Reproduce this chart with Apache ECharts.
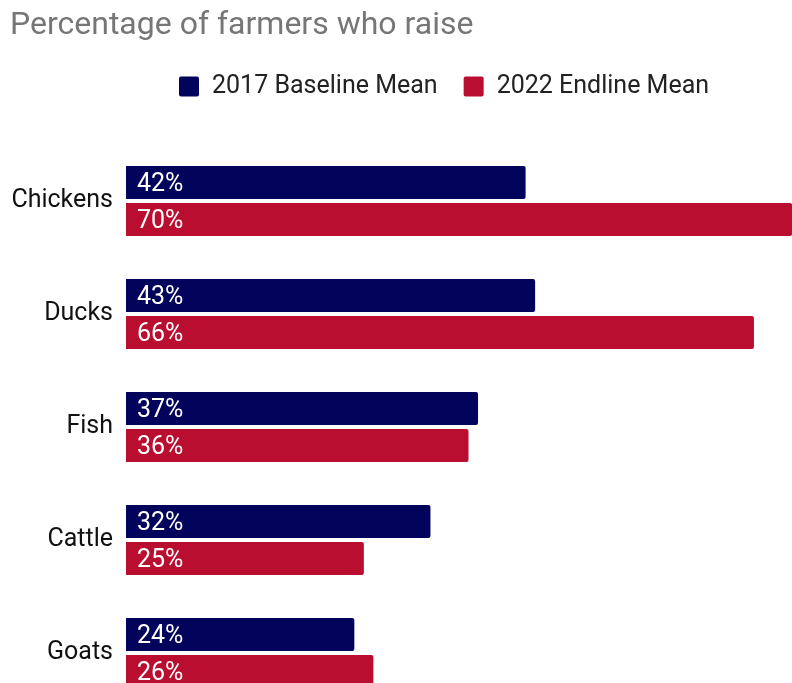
<!DOCTYPE html>
<html>
<head>
<meta charset="utf-8">
<script src="https://cdn.jsdelivr.net/npm/echarts@6/dist/echarts.min.js"></script>
<style>
  html, body { margin: 0; padding: 0; background: #fff; }
  #chart { width: 792px; height: 683px; }
</style>
</head>
<body>
<div id="chart"></div>
<script>
// Livestock raised by farmers, baseline vs endline (percent)
const categories = ['Chickens', 'Ducks', 'Fish', 'Cattle', 'Goats'];
const baseline2017 = [42, 43, 37, 32, 24];
const endline2022 = [70, 66, 36, 25, 26];
const seriesNames = ['2017 Baseline Mean', '2022 Endline Mean'];

const FONT = 'Roboto, "Noto Sans", sans-serif';
const NAVY = '#02035a';
const RED = '#b90e30';

// square legend marker with slightly rounded corners
const SQUARE_ICON = 'path://M2,0 L18,0 Q20,0 20,2 L20,18 Q20,20 18,20 L2,20 Q0,20 0,18 L0,2 Q0,0 2,0 Z';

const chart = echarts.init(document.getElementById('chart'), null, { renderer: 'canvas' });

const barLabel = {
  show: true,
  position: 'insideLeft',
  distance: 11,
  offset: [0, 2],
  color: '#fff',
  fontFamily: FONT,
  fontSize: 25,
  formatter: p => p.value + '%'
};

chart.setOption({
  animation: false,
  backgroundColor: '#fff',
  title: {
    text: 'Percentage of farmers who raise',
    left: 5,
    top: 5,
    textStyle: { color: '#767676', fontFamily: FONT, fontSize: 32, fontWeight: 'normal' }
  },
  legend: {
    data: seriesNames,
    left: 174,
    top: 69,
    icon: SQUARE_ICON,
    itemWidth: 20,
    itemHeight: 20,
    itemGap: 26,
    textStyle: { color: '#222', fontFamily: FONT, fontSize: 25, padding: [0, 0, 0, 8] }
  },
  grid: { left: 126, right: 0, top: 144.5, bottom: -26.5, outerBoundsMode: 'none', containLabel: false },
  xAxis: {
    type: 'value',
    min: 0,
    max: 70,
    show: false
  },
  yAxis: {
    type: 'category',
    data: categories,
    inverse: true,
    axisLine: { show: false },
    axisTick: { show: false },
    axisLabel: { color: '#111', fontFamily: FONT, fontSize: 25, margin: 13, padding: [4, 0, 0, 0] }
  },
  series: [
    {
      name: seriesNames[0],
      type: 'bar',
      data: baseline2017,
      barWidth: 33,
      barGap: '12%',
      itemStyle: { color: NAVY, borderRadius: [0, 2, 2, 0] },
      label: barLabel
    },
    {
      name: seriesNames[1],
      type: 'bar',
      data: endline2022,
      barWidth: 33,
      barGap: '12%',
      itemStyle: { color: RED, borderRadius: [0, 2, 2, 0] },
      label: barLabel
    }
  ]
});
</script>
</body>
</html>
